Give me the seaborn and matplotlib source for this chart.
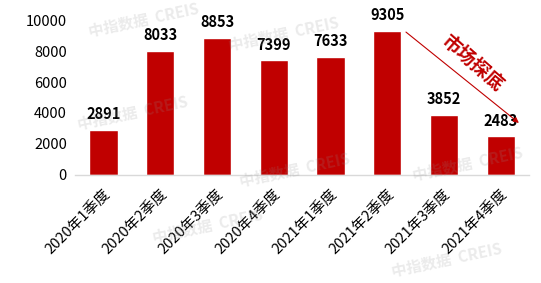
import matplotlib
matplotlib.use("Agg")
import matplotlib.pyplot as plt
import seaborn as sns
import pandas as pd

categories = ["2020年1季度", "2020年2季度", "2020年3季度", "2020年4季度",
              "2021年1季度", "2021年2季度", "2021年3季度", "2021年4季度"]
values = [2891, 8033, 8853, 7399, 7633, 9305, 3852, 2483]
y_ticks = [0, 2000, 4000, 6000, 8000, 10000]
annotation_text = "市场探底"
watermark = "中指数据  CREIS"

sns.set_theme(style="white")
plt.rcParams['font.family'] = ['Noto Sans CJK SC', 'DejaVu Sans']

df = pd.DataFrame({"cat": categories, "val": values})

fig = plt.figure(figsize=(5.41, 2.83), dpi=100)
ax = fig.add_axes([0.139, 0.382, 0.839, 0.547])

sns.barplot(data=df, x="cat", y="val", color="#C00000", saturation=1,
            width=0.5, ax=ax)

ax.set_ylim(0, 10000)
ax.set_yticks(y_ticks)
ax.set_xlim(-0.5, len(categories) - 0.5)
ax.set_xlabel("")
ax.set_ylabel("")
for s in ["top", "right", "left"]:
    ax.spines[s].set_visible(False)
ax.spines["bottom"].set_color("#d9d9d9")
ax.spines["bottom"].set_linewidth(1)
ax.tick_params(axis="y", labelsize=10.5, length=0, pad=6, colors="black")
ax.tick_params(axis="x", labelsize=10.5, length=0, pad=9, colors="black")
plt.setp(ax.get_xticklabels(), rotation=45, ha="right", rotation_mode="anchor")

for i, v in enumerate(values):
    ax.text(i, v + 700, f"{v}", ha="center", va="baseline", fontsize=10.5,
            fontweight="bold", color="black")

ax.annotate("", xy=(7.32, 3355), xytext=(5.33, 9226),
            arrowprops=dict(arrowstyle="-|>", color="#C00000", lw=0.8,
                            mutation_scale=8, shrinkA=0, shrinkB=0),
            annotation_clip=False)
ax.text(6.5, 7226, annotation_text, rotation=-41, color="#C00000",
        fontsize=13.5, fontweight="bold", ha="center", va="center",
        rotation_mode="anchor")

# faint watermarks drawn on top, semi-transparent
for (fx, fy) in [(0.14, 0.60), (0.42, 0.88), (0.44, 0.40), (0.16, 0.93),
                 (0.76, 0.42), (0.28, 0.20), (0.72, 0.08)]:
    fig.text(fx, fy, watermark, color="#909090", alpha=0.18, fontsize=11,
             fontweight="bold", rotation=12, ha="left", va="center", zorder=5)

fig.savefig("out.png", dpi=100)
